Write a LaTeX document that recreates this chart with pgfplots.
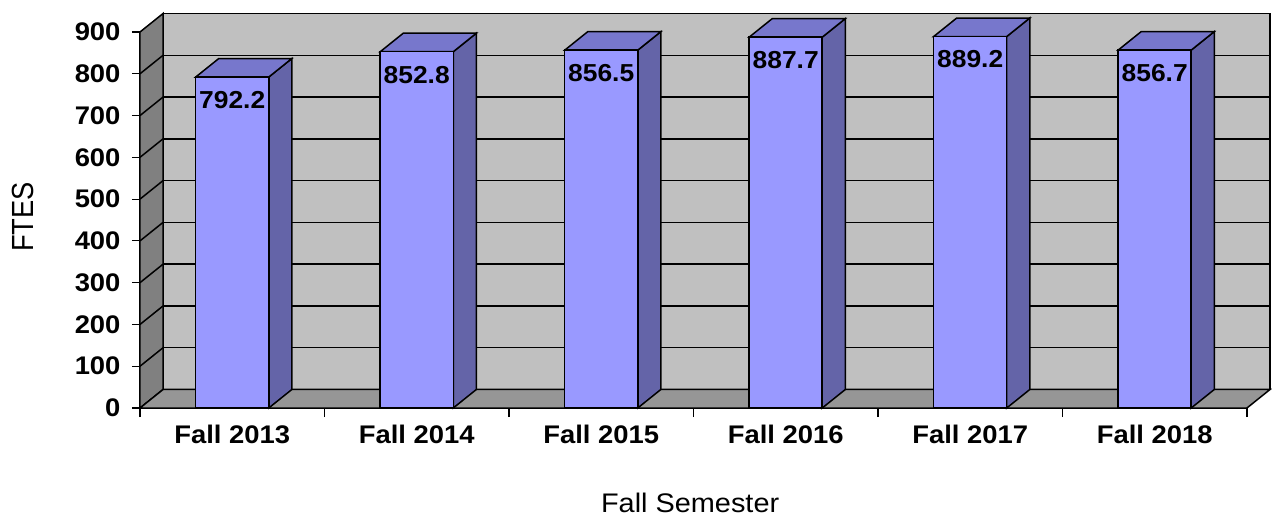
\documentclass[border=0pt]{standalone}
\usepackage{pgfplots}
\pgfplotsset{compat=1.18}
\usepackage{graphicx}
\usepackage{fontspec}
\setmainfont{Liberation Sans}
\definecolor{wallback}{HTML}{C0C0C0}
\definecolor{wallside}{HTML}{808080}
\definecolor{floorc}{HTML}{969696}
\definecolor{barfront}{HTML}{9999FF}
\definecolor{bartop}{HTML}{7777CC}
\definecolor{barside}{HTML}{6464A8}
\newcommand\sq[1]{\scalebox{1}[0.93]{#1}}
% 3D bar: xl, xr, xlb, xrb, value, value+depth
\newcommand\tdbar[6]{%
  \addplot[fill=barside,draw=black,line width=1.5bp] coordinates {(#2,0) (#4,44.3) (#4,#6) (#2,#5)} --cycle;
  \addplot[fill=bartop,draw=black,line width=1.5bp] coordinates {(#1,#5) (#2,#5) (#4,#6) (#3,#6)} --cycle;
  \addplot[fill=barfront,draw=black,line width=1.5bp] coordinates {(#1,0) (#2,0) (#2,#5) (#1,#5)} --cycle;
}
\begin{document}
\begin{tikzpicture}
\useasboundingbox (-140bp,-109bp) rectangle (1132bp,408bp);
\begin{axis}[
  at={(0,0)}, anchor=south west,
  scale only axis, width=1107bp, height=376bp,
  xmin=0, xmax=6, ymin=0, ymax=900,
  clip=false,
  axis line style={draw=none},
  tick pos=left, tick align=outside,
  major tick length=8bp, minor tick length=9bp,
  tick style={black, line width=1.2bp},
  major x tick style={draw=none},
  ytick={0,100,...,900},
  xtick={0.5,1.5,2.5,3.5,4.5,5.5},
  minor xtick={0,1,2,3,4,5,6},
  xticklabels={\sq{Fall 2013},\sq{Fall 2014},\sq{Fall 2015},\sq{Fall 2016},\sq{Fall 2017},\sq{Fall 2018}},
  yticklabel={\sq{\pgfmathprintnumber[assume math mode=true]{\tick}}},
  xticklabel style={font=\bfseries\fontsize{27.5}{30}\selectfont, yshift=-6bp},
  yticklabel style={font=\bfseries\fontsize{27.5}{30}\selectfont, xshift=-8bp},
  xlabel={\sq{Fall Semester}},
  ylabel={\scalebox{1}[1.12]{FTES}},
  xlabel style={font=\fontsize{29}{32}\selectfont, at={(axis description cs:0.497,-0.2513)}, anchor=center},
  ylabel style={font=\fontsize{27.4}{30}\selectfont, at={(axis description cs:-0.1057,0.508)}, anchor=center},
]
% back wall
\addplot[fill=wallback,draw=black,line width=1.5bp] coordinates {(0.125,44.3) (6.125,44.3) (6.125,944.3) (0.125,944.3)} --cycle;
% left wall
\addplot[fill=wallside,draw=black,line width=1.5bp] coordinates {(0,0) (0.125,44.3) (0.125,944.3) (0,900)} --cycle;
% floor
\addplot[fill=floorc,draw=black,line width=1.5bp] coordinates {(0,0) (6,0) (6.125,44.3) (0.125,44.3)} --cycle;
% gridlines on back wall
\addplot[black,line width=1.5bp] coordinates {(0.125,144.3) (6.125,144.3)};
\addplot[black,line width=1.5bp] coordinates {(0.125,244.3) (6.125,244.3)};
\addplot[black,line width=1.5bp] coordinates {(0.125,344.3) (6.125,344.3)};
\addplot[black,line width=1.5bp] coordinates {(0.125,444.3) (6.125,444.3)};
\addplot[black,line width=1.5bp] coordinates {(0.125,544.3) (6.125,544.3)};
\addplot[black,line width=1.5bp] coordinates {(0.125,644.3) (6.125,644.3)};
\addplot[black,line width=1.5bp] coordinates {(0.125,744.3) (6.125,744.3)};
\addplot[black,line width=1.5bp] coordinates {(0.125,844.3) (6.125,844.3)};
% gridlines on left wall
\addplot[black,line width=1.5bp] coordinates {(0,100) (0.125,144.3)};
\addplot[black,line width=1.5bp] coordinates {(0,200) (0.125,244.3)};
\addplot[black,line width=1.5bp] coordinates {(0,300) (0.125,344.3)};
\addplot[black,line width=1.5bp] coordinates {(0,400) (0.125,444.3)};
\addplot[black,line width=1.5bp] coordinates {(0,500) (0.125,544.3)};
\addplot[black,line width=1.5bp] coordinates {(0,600) (0.125,644.3)};
\addplot[black,line width=1.5bp] coordinates {(0,700) (0.125,744.3)};
\addplot[black,line width=1.5bp] coordinates {(0,800) (0.125,844.3)};
% bars
\tdbar{0.302}{0.698}{0.427}{0.823}{792.2}{836.5}
\tdbar{1.302}{1.698}{1.427}{1.823}{852.8}{897.1}
\tdbar{2.302}{2.698}{2.427}{2.823}{856.5}{900.8}
\tdbar{3.302}{3.698}{3.427}{3.823}{887.7}{932.0}
\tdbar{4.302}{4.698}{4.427}{4.823}{889.2}{933.5}
\tdbar{5.302}{5.698}{5.427}{5.823}{856.7}{901.0}
% data labels
\addplot[draw=none, mark=none, point meta=y,
  nodes near coords={\sq{\pgfmathprintnumber[fixed,fixed zerofill,precision=1,assume math mode=true]{\pgfplotspointmeta}}},
  nodes near coords style={anchor=north, inner sep=0pt, yshift=-14bp, font=\bfseries\fontsize{26.5}{30}\selectfont, black}]
  coordinates {(0.5,792.2) (1.5,852.8) (2.5,856.5) (3.5,887.7) (4.5,889.2) (5.5,856.7)};
\end{axis}
\end{tikzpicture}
\end{document}
